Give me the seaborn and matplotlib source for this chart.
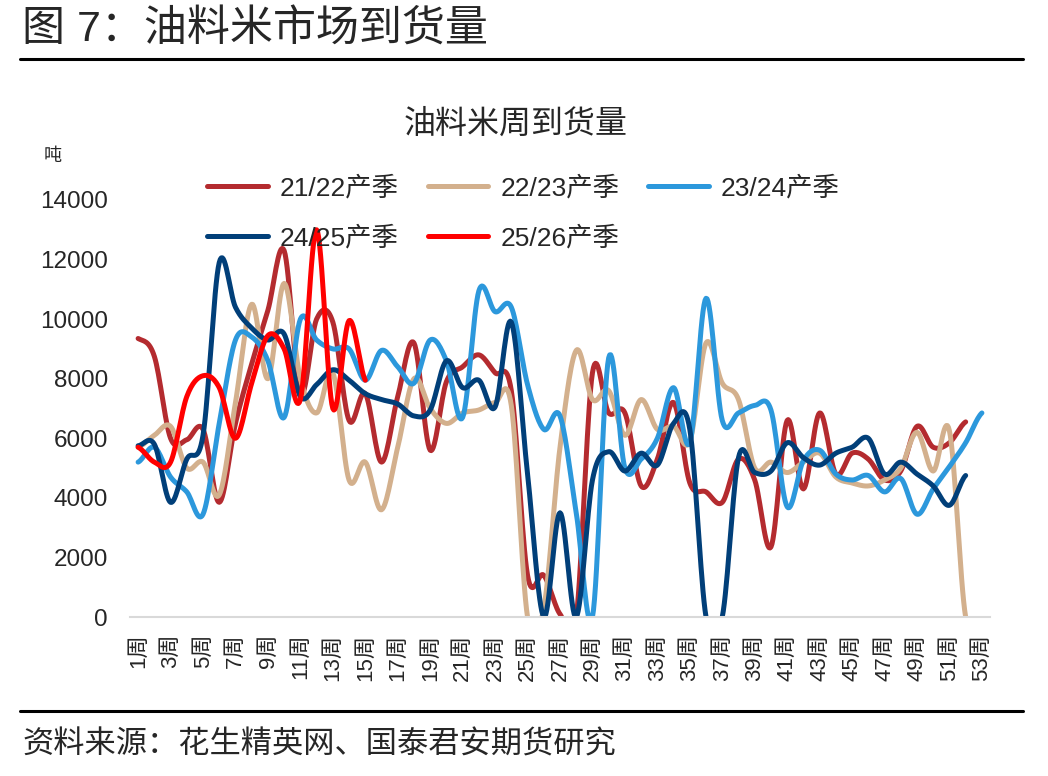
import numpy as np
import pandas as pd
import seaborn as sns
import matplotlib.pyplot as plt
from matplotlib.lines import Line2D

# weekly arrivals (tons)
weeks = [f"{i}周" for i in range(1, 54)]
seasons = ["21/22产季", "22/23产季", "23/24产季", "24/25产季", "25/26产季"]

s2122 = [9350, 8750, 6000, 5950, 6300, 3850, 6500, 8500, 10300, 12300,
         7500, 10000, 9900, 6600, 7500, 5200, 7400, 9200, 5600, 7900,
         8400, 8800, 8200, 7600, 1400, 1400, 100, 0, 8200, 6850,
         6850, 4400, 5300, 7200, 4500, 4200, 3850, 5300, 4600, 2350,
         6600, 4300, 6850, 4800, 5500, 5300, 4600, 4900, 6400, 5700,
         5850, 6550]
s2223 = [5700, 6100, 6400, 5000, 5200, 4100, 7200, 10500, 8000, 11200,
         8000, 6850, 8200, 4600, 5200, 3600, 5700, 8000, 7000, 6500,
         6850, 6950, 7200, 7100, 0, 300, 5700, 8950, 7300, 7600,
         6100, 7300, 6300, 6400, 5900, 9200, 7850, 7300, 5000, 5200,
         4850, 5200, 5500, 4700, 4500, 4400, 4600, 5000, 6200, 4900,
         6250, 0]
s2324 = [5200, 5700, 4700, 4200, 3450, 6500, 9300, 9400, 8600, 6700,
         10000, 9300, 9000, 9000, 7950, 8950, 8400, 7850, 9300, 8600,
         6700, 10950, 10250, 10400, 7800, 6300, 6750, 3500, 0, 8700,
         5000, 5300, 6000, 7700, 5850, 10700, 6600, 6850, 7100, 6950,
         3700, 5250, 5600, 4800, 4600, 4750, 4200, 4650, 3450, 4300,
         5050, 5850, 6850]
s2425 = [5750, 5800, 3850, 5300, 6100, 11900, 10400, 9700, 9300, 9500,
         7400, 7800, 8300, 7950, 7500, 7300, 7150, 6750, 6950, 8600,
         7700, 7950, 7050, 9900, 4800, 0, 3500, 0, 4600, 5550,
         4900, 5500, 5100, 6500, 6300, 0, 0, 5350, 4850, 4900,
         5850, 5350, 5100, 5500, 5700, 6000, 4800, 5200, 4800, 4400,
         3750, 4750]
s2526 = [5700, 5200, 5200, 7400, 8100, 7700, 6000, 7850, 9450, 9000,
         7300, 13000, 7000, 9950, 7950]

colors = ["#B42B2F", "#D3B08D", "#2C98DC", "#013F79", "#FF0000"]


def smooth(vals, n=16):
    # Excel-style smoothed line (Catmull-Rom through the weekly points)
    y = np.asarray(vals, float)
    p = np.concatenate([[y[0]], y, [y[-1]]])
    t = np.linspace(0, 1, n, endpoint=False)
    xs, ys = [], []
    for i in range(len(y) - 1):
        p0, p1, p2, p3 = p[i:i + 4]
        ys.append(0.5 * (2 * p1 + (p2 - p0) * t + (2 * p0 - 5 * p1 + 4 * p2 - p3) * t ** 2
                         + (3 * p1 - p0 - 3 * p2 + p3) * t ** 3))
        xs.append(i + 1 + t)
    xs.append([len(y)])
    ys.append([y[-1]])
    return np.concatenate(xs), np.concatenate(ys)


frames = []
for name, vals in zip(seasons, [s2122, s2223, s2324, s2425, s2526]):
    x, v = smooth(vals)
    frames.append(pd.DataFrame({"x": x, "v": v, "season": name}))
df = pd.concat(frames, ignore_index=True)

sns.set_style("white")
plt.rcParams["font.family"] = ["Liberation Sans", "Noto Sans CJK SC"]

fig = plt.figure(figsize=(10.48, 7.76), dpi=100)
ax = fig.add_axes([130 / 1048, 1 - 617 / 776, 860 / 1048, 417 / 776])

sns.lineplot(data=df, x="x", y="v", hue="season", hue_order=seasons,
             palette=dict(zip(seasons, colors)), estimator=None, sort=False,
             linewidth=3.6, legend=False, ax=ax)

ax.set_xlim(0.5, 53.5)
ax.set_ylim(0, 14000)
ax.set_yticks(range(0, 14001, 2000))
ax.set_xticks(range(1, 54, 2))
ax.set_xticklabels(weeks[::2], rotation=90)
ax.set_xticks(np.arange(0.5, 54, 1), minor=True)
ax.tick_params(axis="y", length=0, pad=16, labelsize=17.5)
ax.tick_params(axis="x", which="major", length=0, pad=12, labelsize=16)
ax.tick_params(axis="x", which="minor", direction="in", length=6, width=1.2, color="#D9D9D9")
ax.set_xlabel("")
ax.set_ylabel("")
for s in ["top", "right", "left"]:
    ax.spines[s].set_visible(False)
ax.spines["bottom"].set_color("#D9D9D9")
ax.spines["bottom"].set_linewidth(1.5)

# legend fills row by row in the reference: reorder for matplotlib's column fill
order = [0, 3, 1, 4, 2]
ax.legend(handles=[ax.lines[i] for i in order], labels=[seasons[i] for i in order],
          ncol=3, frameon=False,
          loc="upper left", bbox_to_anchor=(207 / 1048, 1 - 176 / 776),
          bbox_transform=fig.transFigure, borderpad=0, borderaxespad=0,
          fontsize=19, handlelength=2.3, handletextpad=0.45,
          columnspacing=1.1, labelspacing=0.95)

fig.text(22 / 1048, 1 - 31 / 776, "图 7：油料米市场到货量", fontsize=31, va="center", ha="left")
fig.add_artist(Line2D([20 / 1048, 1023 / 1048], [1 - 59 / 776] * 2,
                      transform=fig.transFigure, color="black", lw=2.2))
fig.text(516 / 1048, 1 - 125 / 776, "油料米周到货量", fontsize=23, va="center", ha="center")
fig.text(53 / 1048, 1 - 157 / 776, "吨", fontsize=13, va="center", ha="center")
fig.add_artist(Line2D([20 / 1048, 1023 / 1048], [1 - 711 / 776] * 2,
                      transform=fig.transFigure, color="black", lw=2.2))
fig.text(22 / 1048, 1 - 745 / 776, "资料来源：花生精英网、国泰君安期货研究", fontsize=22.5, va="center", ha="left")

fig.savefig("out.png", dpi=100)
